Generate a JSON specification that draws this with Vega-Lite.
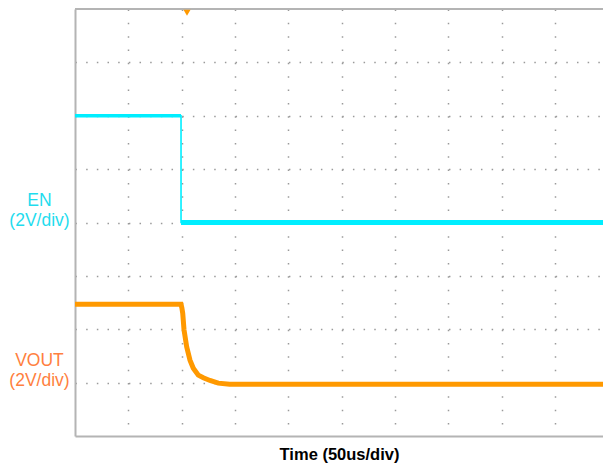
{
  "$schema": "https://vega.github.io/schema/vega-lite/v6.json",
  "width": 528,
  "height": 427,
  "autosize": {"type": "none"},
  "padding": {"left": 75, "top": 9, "right": 0, "bottom": 32},
  "background": "white",
  "config": {"view": {"stroke": null}, "font": "Liberation Sans"},
  "datasets": {
    "frame": [{"level": 8}],
    "en": [
      {"i": 0, "t": 0, "v": 6.0},
      {"i": 1, "t": 99.4, "v": 6.0},
      {"i": 2, "t": 99.4, "v": 4.0},
      {"i": 3, "t": 495, "v": 4.0}
    ],
    "enLevels": [
      {"t0": 0, "t1": 99.4, "v": 6.0, "state": "high"},
      {"t0": 99.4, "t1": 495, "v": 4.0, "state": "low"}
    ],
    "vout": [
      {"i": 0, "t": 0, "v": 2.47},
      {"i": 1, "t": 99.4, "v": 2.47},
      {"i": 2, "t": 100.2, "v": 2.4},
      {"i": 3, "t": 101.0, "v": 2.3},
      {"i": 4, "t": 102.2, "v": 1.99},
      {"i": 5, "t": 104.7, "v": 1.67},
      {"i": 6, "t": 107.8, "v": 1.42},
      {"i": 7, "t": 110.9, "v": 1.27},
      {"i": 8, "t": 115.6, "v": 1.14},
      {"i": 9, "t": 120.3, "v": 1.09},
      {"i": 10, "t": 126.5, "v": 1.04},
      {"i": 11, "t": 134.3, "v": 0.99},
      {"i": 12, "t": 145, "v": 0.97},
      {"i": 13, "t": 495, "v": 0.97}
    ],
    "trigger": [{"t": 105, "v": 7.93}]
  },
  "layer": [
    {
      "data": {"name": "en"},
      "mark": {"type": "line", "color": "#00eeff", "strokeWidth": 1.6, "strokeCap": "butt"},
      "encoding": {
        "x": {
          "field": "t", "type": "quantitative",
          "scale": {"domain": [0, 495], "nice": false, "zero": false},
          "axis": {
            "values": [50, 100, 150, 200, 250, 300, 350, 400, 450],
            "grid": true, "gridColor": "#9a9a9a", "gridDash": [1.5, 11.84], "gridWidth": 1.5,
            "labels": false, "ticks": false, "tickSize": 0,
            "domain": true, "domainColor": "#b4b4b4", "domainWidth": 2,
            "title": "Time (50us/div)",
            "titleFont": "Liberation Sans", "titleFontSize": 16.5, "titleFontWeight": "bold",
            "titleColor": "#000000", "titlePadding": 10
          }
        },
        "y": {
          "field": "v", "type": "quantitative",
          "scale": {"domain": [0, 8], "nice": false, "zero": false},
          "axis": {
            "values": [1, 2, 3, 4, 5, 6, 7],
            "grid": true, "gridColor": "#9a9a9a", "gridDash": [1.5, 9.17], "gridWidth": 1.5,
            "domain": true, "domainColor": "#b4b4b4", "domainWidth": 2,
            "ticks": false, "tickSize": 0,
            "labelExpr": "datum.value == 4 ? ['EN', '(2V/div)'] : datum.value == 1 ? ['VOUT', '(2V/div)'] : ''",
            "labelAlign": "center", "labelBaseline": "middle",
            "labelPadding": 36, "labelOffset": -22, "labelLineHeight": 20,
            "labelFont": "Liberation Sans", "labelFontSize": 17.5,
            "labelColor": {"condition": {"test": "datum.value == 4", "value": "#1fdcee"}, "value": "#ff7f40"},
            "labelOverlap": false, "labelBound": false, "labelFlush": false,
            "title": null
          }
        },
        "order": {"field": "i", "type": "quantitative"}
      }
    },
    {
      "data": {"name": "enLevels"},
      "mark": {"type": "rule", "color": "#00eeff", "strokeCap": "butt"},
      "encoding": {
        "x": {"field": "t0", "type": "quantitative"},
        "x2": {"field": "t1"},
        "y": {"field": "v", "type": "quantitative"},
        "strokeWidth": {
          "field": "state", "type": "nominal",
          "scale": {"domain": ["high", "low"], "range": [3.5, 5]},
          "legend": null
        }
      }
    },
    {
      "data": {"name": "frame"},
      "mark": {"type": "rule", "color": "#b4b4b4", "strokeWidth": 2},
      "encoding": {"y": {"field": "level", "type": "quantitative"}}
    },
    {
      "data": {"name": "vout"},
      "mark": {"type": "line", "color": "#ff9900", "strokeWidth": 5, "strokeCap": "butt"},
      "encoding": {
        "x": {"field": "t", "type": "quantitative"},
        "y": {"field": "v", "type": "quantitative"},
        "order": {"field": "i", "type": "quantitative"}
      }
    },
    {
      "data": {"name": "trigger"},
      "mark": {"type": "point", "shape": "triangle-down", "filled": true, "color": "#ff9900", "size": 50, "opacity": 1},
      "encoding": {
        "x": {"field": "t", "type": "quantitative"},
        "y": {"field": "v", "type": "quantitative"}
      }
    }
  ]
}
